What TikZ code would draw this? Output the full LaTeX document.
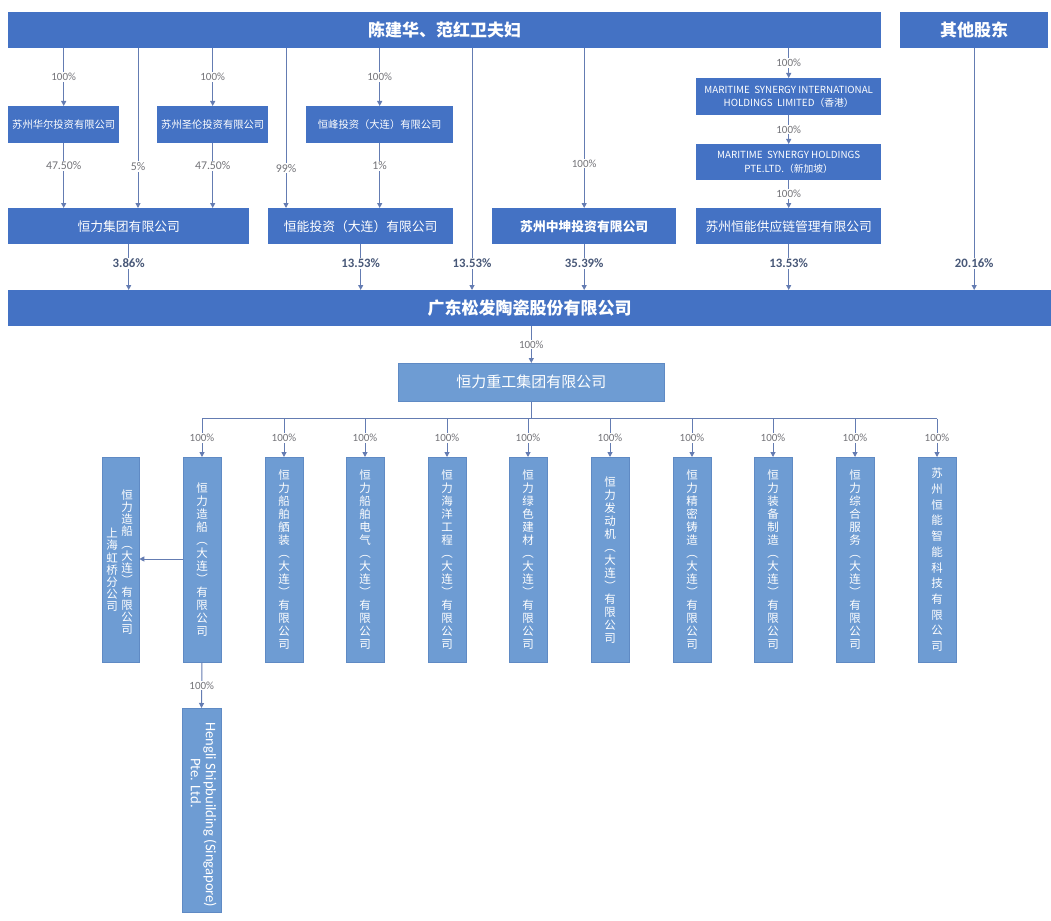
\documentclass[tikz,border=0pt]{standalone}
\usepackage{fontspec}
\setmainfont{Noto Sans CJK SC}
\newfontfamily\labf{Carlito}
\usetikzlibrary{arrows.meta,calc}
\definecolor{mainblue}{RGB}{68,114,196}
\definecolor{lightblue}{RGB}{110,156,211}
\definecolor{lightedge}{RGB}{95,138,196}
\definecolor{linec}{RGB}{100,124,178}
\definecolor{labc}{RGB}{115,115,120}
\definecolor{labd}{RGB}{72,88,120}
\tikzset{
  bx/.style={fill=mainblue, text=white, inner sep=0pt, anchor=north west},
  lbx/.style={fill=lightblue, draw=lightedge, line width=0.6pt, text=white, inner sep=0pt, anchor=north west},
  vbx/.style={lbx, anchor=north, minimum width=38pt, minimum height=205pt, align=center,
              font=\fontsize{11.5}{13}\selectfont},
  vtxt/.style={text=white, inner sep=0pt, align=center, font=\fontsize{11.5}{12.2}\selectfont},
  conn/.style={draw=linec, line width=1pt},
  arr/.style={conn, -{Triangle[length=5pt,width=5pt]}},
  lab/.style={fill=white, inner sep=1pt, text=labc, font=\labf\fontsize{11}{11}\selectfont},
  labm/.style={fill=white, inner sep=1pt, text=labc, font=\labf\fontsize{11.8}{11.8}\selectfont},
  labb/.style={fill=white, inner sep=1pt, text=labd, font=\labf\bfseries\fontsize{12.8}{12.8}\selectfont},
  big/.style={font=\bfseries\fontsize{17}{17}\selectfont},
  mid/.style={font=\fontsize{12.8}{12.8}\selectfont},
  sml/.style={font=\fontsize{10.3}{10.3}\selectfont},
  eng/.style={font=\fontsize{9.8}{13.5}\selectfont, align=center},
}
\begin{document}
\begin{tikzpicture}[x=1pt,y=-1pt]
\useasboundingbox[fill=white] (0,0) rectangle (1051,920);

% top level
\node[bx, big, minimum width=873pt, minimum height=36pt] (top) at (8,12) {陈建华、范红卫夫妇};
\node[bx, big, minimum width=148pt, minimum height=36pt] (other) at (900,12) {其他股东};

% second row
\node[bx, sml, minimum width=111pt, minimum height=37pt] (hr) at (8,106) {苏州华尔投资有限公司};
\node[bx, sml, minimum width=111pt, minimum height=37pt] (sl) at (157,106) {苏州圣伦投资有限公司};
\node[bx, sml, minimum width=147pt, minimum height=37pt] (hf) at (306,106) {恒峰投资（大连）有限公司};
\node[bx, eng, minimum width=185pt, minimum height=37pt] (ms1) at (696,78) {MARITIME\ \ SYNERGY INTERNATIONAL\\HOLDINGS\ \ LIMITED（香港）};
\node[bx, eng, minimum width=185pt, minimum height=36pt] (ms2) at (696,144) {MARITIME\ \ SYNERGY HOLDINGS\\PTE.LTD.（新加坡）};

% third row
\node[bx, mid, minimum width=241pt, minimum height=36pt] (hlg) at (8,208) {恒力集团有限公司};
\node[bx, mid, minimum width=185pt, minimum height=36pt] (hnt) at (268,208) {恒能投资（大连）有限公司};
\node[bx, mid, minimum width=184pt, minimum height=36pt, font=\bfseries\fontsize{12.8}{12.8}\selectfont] (zk) at (492,208) {苏州中坤投资有限公司};
\node[bx, mid, minimum width=185pt, minimum height=36pt] (sc) at (696,208) {苏州恒能供应链管理有限公司};

% listed company
\node[bx, big, minimum width=1043pt, minimum height=36pt] (sf) at (8,290) {广东松发陶瓷股份有限公司};
\node[lbx, font=\fontsize{15}{15}\selectfont, minimum width=266pt, minimum height=38pt] (hz) at (398,363) {恒力重工集团有限公司};

% x helpers
\coordinate (x5) at (138,0);
\coordinate (x99) at (286,0);
\coordinate (x13) at (472,0);

% upper connectors
\draw[arr] (top.south -| hr.north) -- node[lab, pos=.5] {100\%} (hr.north);
\draw[arr] (top.south -| sl.north) -- node[lab, pos=.5] {100\%} (sl.north);
\draw[arr] (top.south -| hf.north) -- node[lab, pos=.5] {100\%} (hf.north);
\draw[arr] (top.south -| ms1.north) -- node[lab, pos=.5] {100\%} (ms1.north);
\draw[arr] (ms1.south) -- node[lab, pos=.5] {100\%} (ms2.north);
\draw[arr] (ms2.south) -- node[lab, pos=.5] {100\%} (sc.north);
\draw[arr] (top.south -| zk.north) -- node[lab, pos=.72] {100\%} (zk.north);

\draw[arr] (hr.south) -- node[labm, pos=.35] {47.50\%} (hlg.north -| hr.south);
\draw[arr] (sl.south) -- node[labm, pos=.35] {47.50\%} (hlg.north -| sl.south);
\draw[arr] (top.south -| x5) -- node[labm, pos=.74] {5\%} (hlg.north -| x5);
\draw[arr] (top.south -| x99) -- node[labm, pos=.75] {99\%} (hnt.north -| x99);
\draw[arr] (hf.south) -- node[labm, pos=.35] {1\%} (hnt.north -| hf.south);

% to listed company
\draw[arr] (hlg.south) -- node[labb, pos=.42] {3.86\%} (sf.north -| hlg.south);
\draw[arr] (hnt.south) -- node[labb, pos=.42] {13.53\%} (sf.north -| hnt.south);
\draw[arr] (top.south -| x13) -- node[labb, pos=.89] {13.53\%} (sf.north -| x13);
\draw[arr] (zk.south) -- node[labb, pos=.42] {35.39\%} (sf.north -| zk.south);
\draw[arr] (sc.south) -- node[labb, pos=.42] {13.53\%} (sf.north -| sc.south);
\draw[arr] (other.south) -- node[labb, pos=.89] {20.16\%} (sf.north -| other.south);

\draw[arr] (sf.south -| hz.north) -- node[lab, pos=.5] {100\%} (hz.north);

% subsidiaries
\node[vbx] (s1) at (202,457) {恒\\力\\造\\船\\︵\\大\\连\\︶\\有\\限\\公\\司};
\node[vbx] (s2) at (284,457) {恒\\力\\船\\舶\\舾\\装\\︵\\大\\连\\︶\\有\\限\\公\\司};
\node[vbx] (s3) at (365,457) {恒\\力\\船\\舶\\电\\气\\︵\\大\\连\\︶\\有\\限\\公\\司};
\node[vbx] (s4) at (447,457) {恒\\力\\海\\洋\\工\\程\\︵\\大\\连\\︶\\有\\限\\公\\司};
\node[vbx] (s5) at (528,457) {恒\\力\\绿\\色\\建\\材\\︵\\大\\连\\︶\\有\\限\\公\\司};
\node[vbx] (s6) at (610,457) {恒\\力\\发\\动\\机\\︵\\大\\连\\︶\\有\\限\\公\\司};
\node[vbx] (s7) at (692,457) {恒\\力\\精\\密\\铸\\造\\︵\\大\\连\\︶\\有\\限\\公\\司};
\node[vbx] (s8) at (773,457) {恒\\力\\装\\备\\制\\造\\︵\\大\\连\\︶\\有\\限\\公\\司};
\node[vbx] (s9) at (855,457) {恒\\力\\综\\合\\服\\务\\︵\\大\\连\\︶\\有\\限\\公\\司};
\node[vbx, font=\fontsize{11.5}{15.7}\selectfont] (s10) at (937,457) {苏\\州\\恒\\能\\智\\能\\科\\技\\有\\限\\公\\司};

% bus
\coordinate (bus) at ($(hz.south)+(0,17)$);
\draw[conn] (hz.south) -- (bus);
\draw[conn] (bus -| s1.north) -- (bus -| s10.north);
\foreach \s in {s1,s2,s3,s4,s5,s6,s7,s8,s9,s10}
  \draw[arr] (bus -| \s.north) -- node[lab, pos=.5] {100\%} (\s.north);

% branch
\node[vbx, minimum width=37pt] (br) at (120.5,457) {};
\node[vtxt] (brR) at (127,562) {恒\\力\\造\\船\\︵\\大\\连\\︶\\有\\限\\公\\司};
\node[vtxt] (brL) at (112,570) {上\\海\\虹\\桥\\分\\公\\司};
\draw[arr] (s1.west |- 0,559) -- (br.east |- 0,559);

% singapore
\node[lbx, anchor=north, minimum width=39pt, minimum height=204pt] (sg) at (201.5,708) {};
\node[text=white, inner sep=0pt, rotate=-90, font=\labf\fontsize{14.6}{14.6}\selectfont] (sg1) at (210,815) {Hengli Shipbuilding (Singapore)};
\node[text=white, inner sep=0pt, rotate=-90, font=\labf\fontsize{14.6}{14.6}\selectfont] (sg2) at (196,783) {Pte. Ltd.};
\draw[arr] (s1.south) -- node[lab, pos=.5] {100\%} (sg.north);
\end{tikzpicture}
\end{document}
